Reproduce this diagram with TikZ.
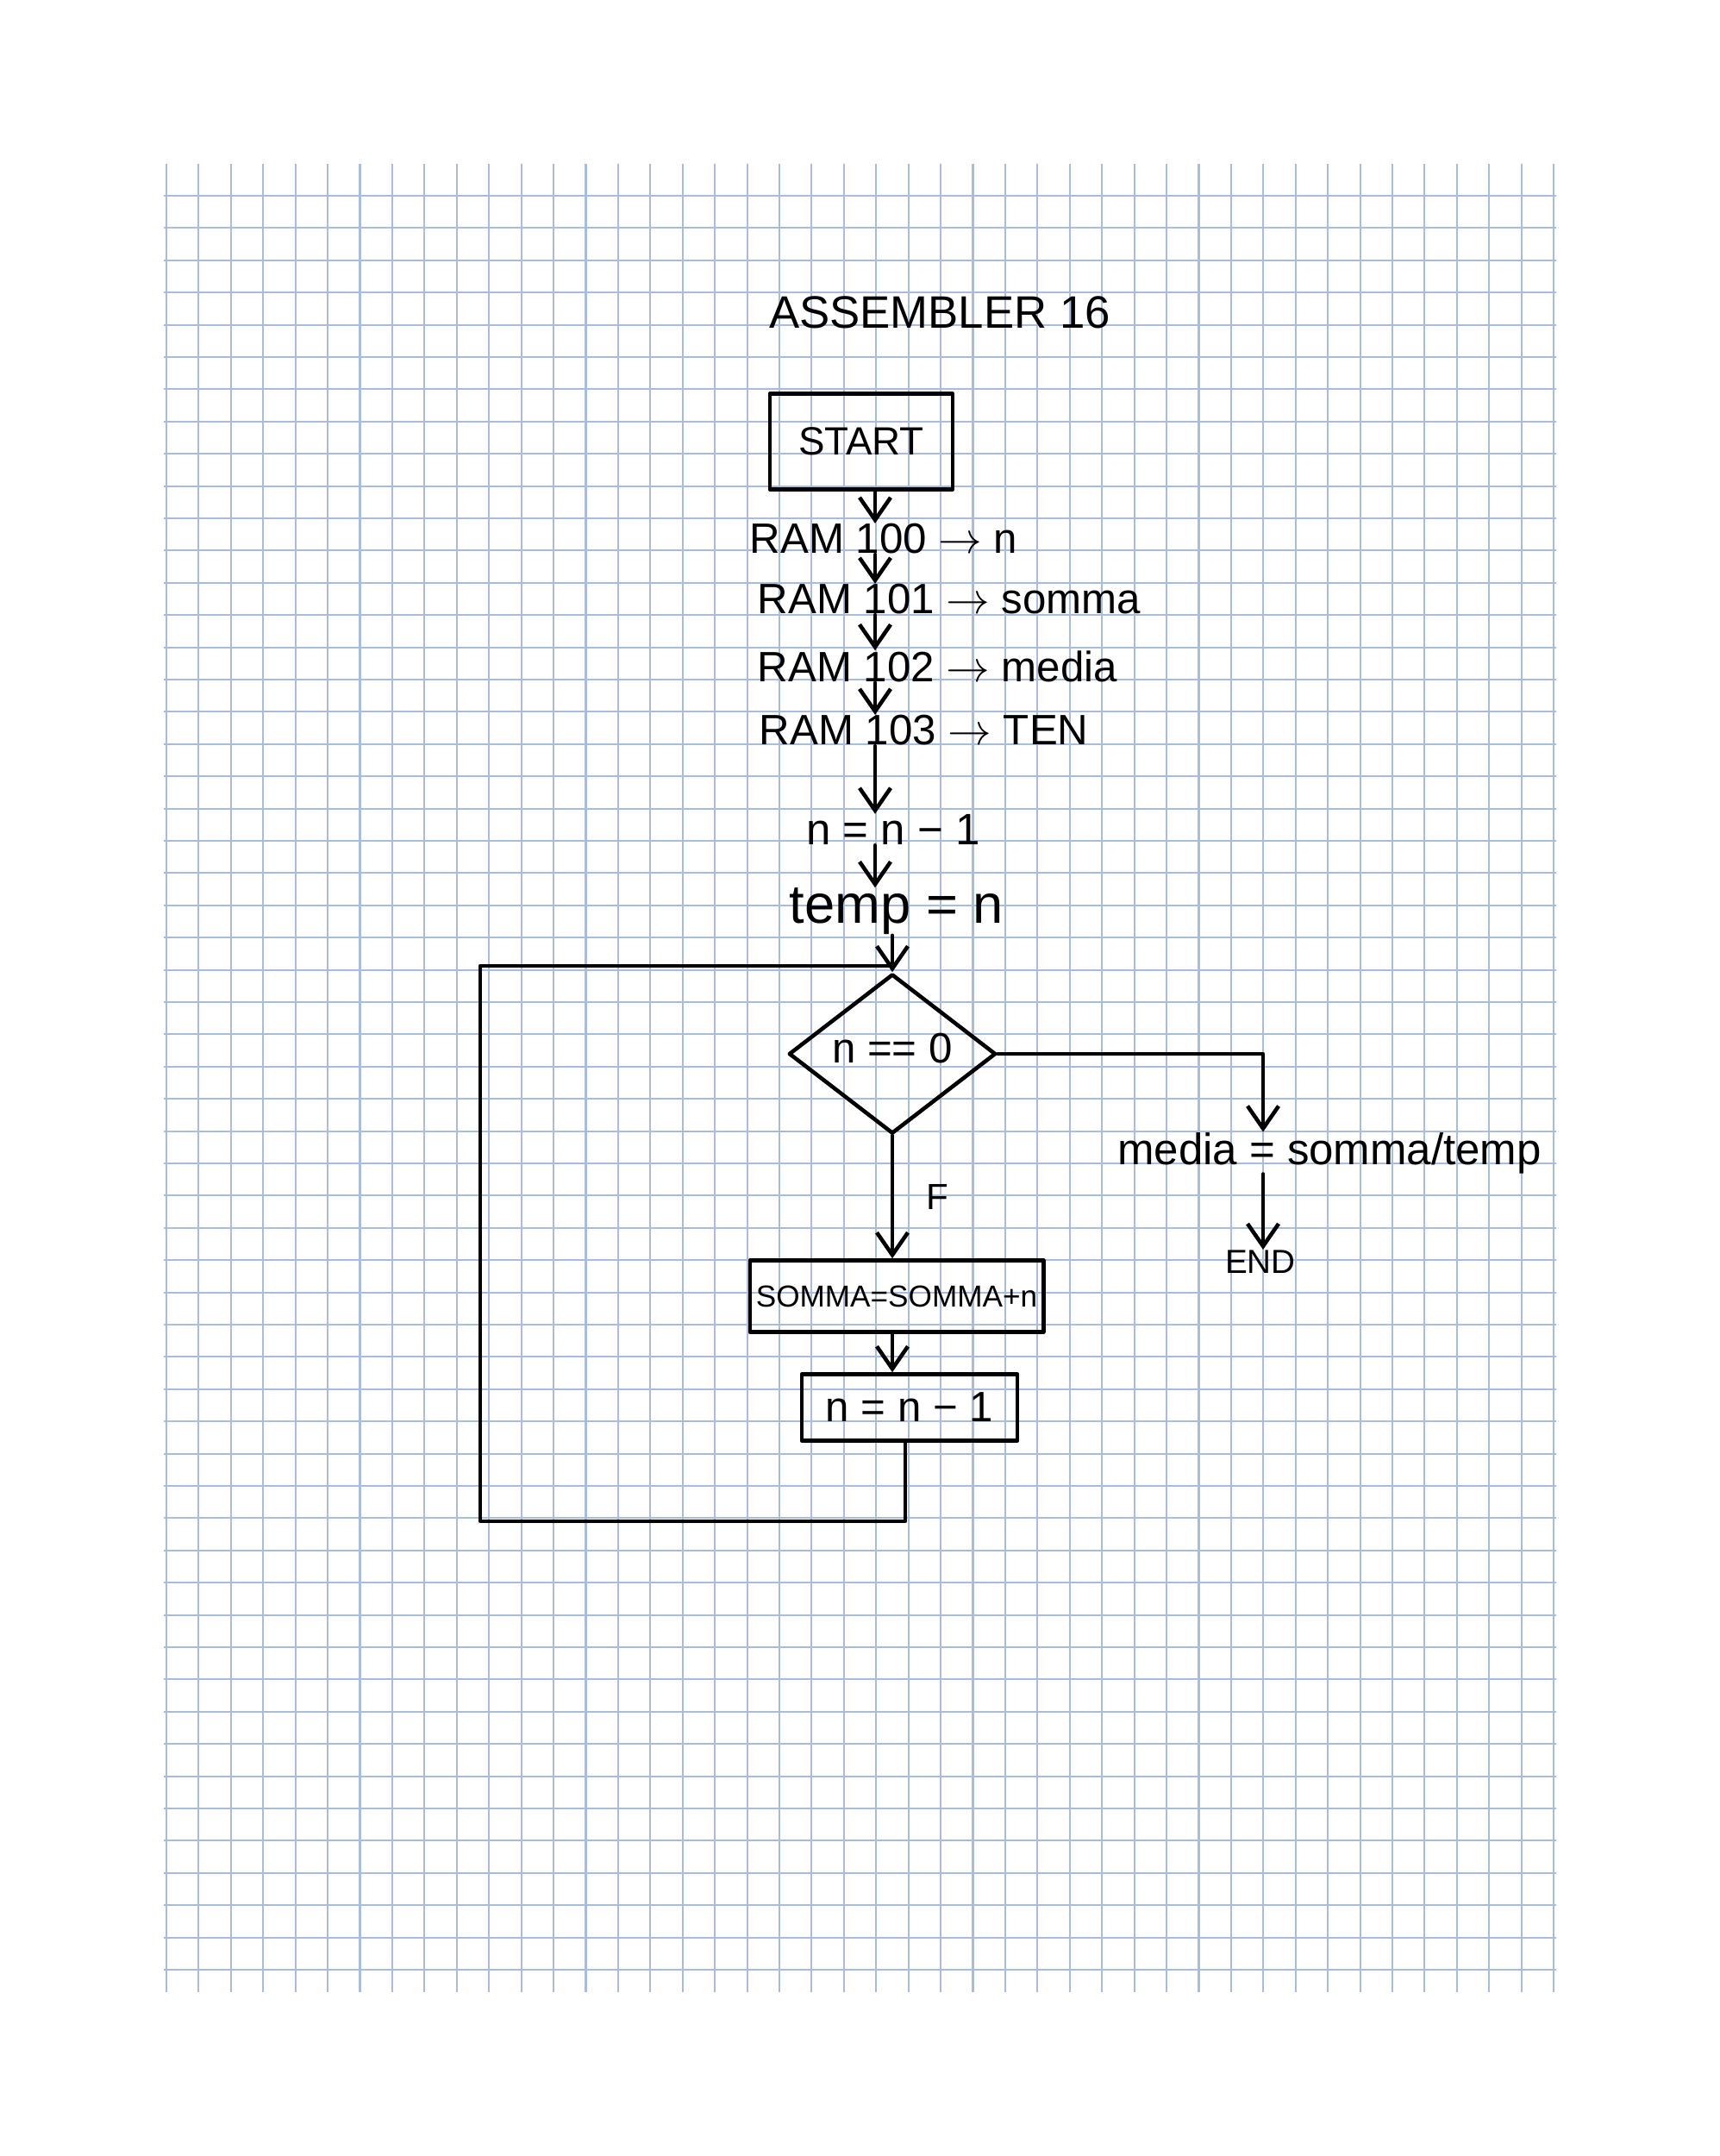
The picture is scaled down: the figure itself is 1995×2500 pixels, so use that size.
\documentclass[tikz,border=0pt]{standalone}
\usepackage{fontspec}
\setmainfont{Liberation Sans}
\usetikzlibrary{shapes.geometric,arrows.meta,calc}
\definecolor{gridblue}{RGB}{168,188,222}
\begin{document}
\begin{tikzpicture}[x=0.01cm,y=-0.01cm,
  ink/.style={line width=1.3pt, black, line cap=round, line join=round},
  arr/.style={ink, -{Straight Barb[length=2.6mm,width=3.6mm]}},
  gridline/.style={gridblue, line width=0.6pt},
  txt/.style={inner sep=0pt, font=\fontsize{14}{16}\selectfont},
  boxnode/.style={ink, draw, rectangle, inner sep=2pt},
]
\useasboundingbox[fill=white] (0,0) rectangle (1995,2500);

% squared paper
\foreach \i in {0,...,43} {
  \draw[gridline] ({193+37.42*\i},190) -- ({193+37.42*\i},2310);
}
\foreach \j in {0,...,55} {
  \draw[gridline] (190,{227+37.4*\j}) -- (1805,{227+37.4*\j});
}

% title
\node[txt, font=\fontsize{15}{18}\selectfont] (title) at (1090,362) {ASSEMBLER 16};

% start
\node[boxnode, minimum width=2.12cm, minimum height=1.11cm,
      font=\fontsize{13}{15}\selectfont] (start) at (999,512) {START};

% RAM lines
\node[txt, anchor=west] (r1) at (869,625) {RAM 100 $\rightarrow$ n};
\node[txt, anchor=west] (r2) at (878,695) {RAM 101 $\rightarrow$ somma};
\node[txt, anchor=west] (r3) at (878,773) {RAM 102 $\rightarrow$ media};
\node[txt, anchor=west] (r4) at (880,847) {RAM 103 $\rightarrow$ TEN};

\coordinate (col) at (1015,0);

% assignments
\node[txt, font=\fontsize{14.5}{17}\selectfont] (nn1) at (1036,962) {n = n − 1};
\node[txt, font=\fontsize{18}{21}\selectfont] (temp) at (1040,1057) {temp = n};

% decision
\node[ink, draw, diamond, minimum width=2.4cm, minimum height=1.85cm,
      inner sep=0pt] (d) at (1035,1222) {};
\node[txt, font=\fontsize{14}{16}\selectfont] (dt) at (1035,1216) {n == 0};

% right branch
\node[txt, font=\fontsize{14.5}{17}\selectfont] (med) at (1542,1337) {media = somma/temp};
\node[txt, font=\fontsize{11}{13}\selectfont] (end) at (1462,1463) {END};
\coordinate (cr) at (1465,0);

% false branch
\node[boxnode, minimum width=3.36cm, minimum height=0.83cm,
      font=\fontsize{10}{12}\selectfont] (s) at (1040,1503) {SOMMA=SOMMA+n};
\node[boxnode, minimum width=2.5cm, minimum height=0.77cm,
      font=\fontsize{14}{16}\selectfont] (b2) at (1055,1632) {n = n − 1};

% loop corners
\coordinate (lbr) at (1050,1764);
\coordinate (ltl) at (557,1120);
\coordinate (j) at (1035,1120);

% connectors
\draw[arr] (start.south -| col) -- (r1.north -| col);
\draw[arr] (r1.south -| col) -- (r2.north -| col);
\draw[arr] (r2.south -| col) -- (r3.north -| col);
\draw[arr] (r3.south -| col) -- (r4.north -| col);
\draw[arr] (r4.south -| col) -- (nn1.north -| col);
\draw[arr] (nn1.south -| col) -- (temp.north -| col);
\draw[arr] (temp.south -| d.north) -- (d.north);

\draw[arr] (d.east) -- (d.east -| cr) -- (med.north -| cr);
\draw[arr] (med.south -| cr) -- (end.north -| cr);

\draw[arr] (d.south) -- node[right, xshift=0.25cm, font=\fontsize{12}{14}\selectfont] (flab) {F} (d.south |- s.north);
\draw[arr] (s.south -| d.south) -- (b2.north -| d.south);

\draw[ink] (b2.south -| lbr) -- (lbr) -- (lbr -| ltl) -- (ltl) -- (j);
\end{tikzpicture}
\end{document}
